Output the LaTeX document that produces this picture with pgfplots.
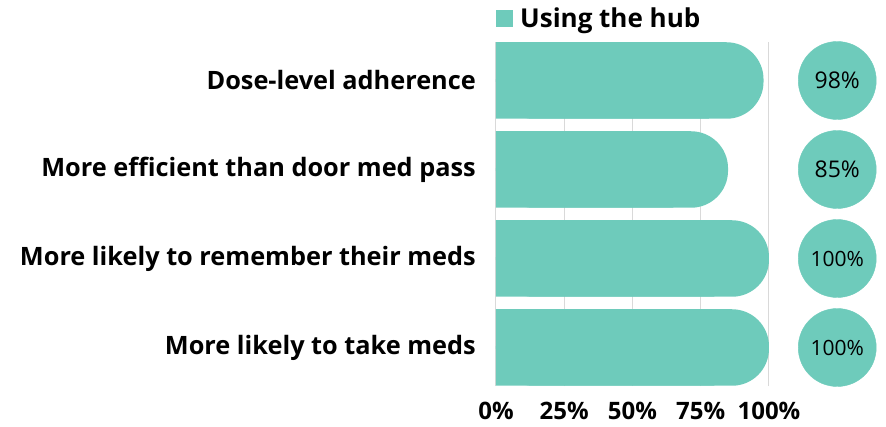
\documentclass[border=0pt]{standalone}
\usepackage{pgfplots}
\pgfplotsset{compat=1.18}
\usepackage{pgfplotstable}
\usepackage{fontspec}
\setmainfont{Open Sans}
\definecolor{hub}{RGB}{110,203,187}
\definecolor{gridc}{RGB}{217,217,217}

\pgfplotstableread{
y v
0 100
1 100
2 85
3 98
}\hubdata

\newcommand\labfont{\fontsize{25.3bp}{30bp}\selectfont\bfseries}
\newcommand\tickfont{\fontsize{24bp}{28bp}\selectfont\bfseries}

\begin{document}
\begin{tikzpicture}
\useasboundingbox (-496bp,-41bp) rectangle (390bp,386bp);
\begin{axis}[
  at={(0,0)}, anchor=south west,
  scale only axis, width=273bp, height=344bp,
  xmin=0, xmax=100, ymin=-0.4326, ymax=3.4326,
  clip=false,
  axis line style={draw=none},
  tick style={draw=none},
  xmajorgrids, major grid style={gridc, line width=1bp},
  xtick={0,25,50,75,100},
  xticklabels={0\%,25\%,50\%,75\%,100\%},
  ytick={0,1,2,3},
  yticklabels={More likely to take meds, More likely to remember their meds, More efficient than door med pass, Dose-level adherence},
  tick label style={inner sep=0pt},
  xticklabel style={font=\tickfont, yshift=-16bp},
  yticklabel style={font=\labfont, xshift=-20bp},
  legend style={at={(0,1)}, anchor=west, yshift=23.5bp, draw=none, fill=none, inner sep=0pt,
    font=\fontsize{26bp}{30bp}\selectfont\bfseries, legend cell align=left,
    /tikz/every odd column/.append style={column sep=5bp}},
  legend image code/.code={\fill[hub, sharp corners] (0bp,-8.5bp) rectangle (17bp,8.5bp);},
]
\addplot[xbar, bar width=76.5bp, bar shift=0pt, fill=hub, draw=none, rounded corners=37bp] table[x=v, y=y] {\hubdata};
\addlegendentry{Using the hub}
\addplot[xbar, bar width=76.5bp, bar shift=0pt, fill=hub, draw=none, forget plot] table[x expr=\thisrow{v}-20, y=y] {\hubdata};

\addplot[hub, only marks, mark=*, mark size=39bp, mark options={fill=hub, draw=hub}, forget plot,
  point meta=explicit symbolic, nodes near coords={\pgfplotspointmeta\%},
  nodes near coords align=center,
  every node near coord/.append style={anchor=center, text=black, font=\fontsize{23bp}{27bp}\selectfont}]
  coordinates {(125,3) [98] (125,2) [85]};
\addplot[hub, only marks, mark=*, mark size=39bp, mark options={fill=hub, draw=hub}, forget plot,
  point meta=explicit symbolic, nodes near coords={\pgfplotspointmeta\%},
  nodes near coords align=center,
  every node near coord/.append style={anchor=center, text=black, font=\fontsize{21bp}{25bp}\selectfont}]
  coordinates {(125,1) [100] (125,0) [100]};
\end{axis}
\end{tikzpicture}
\end{document}
